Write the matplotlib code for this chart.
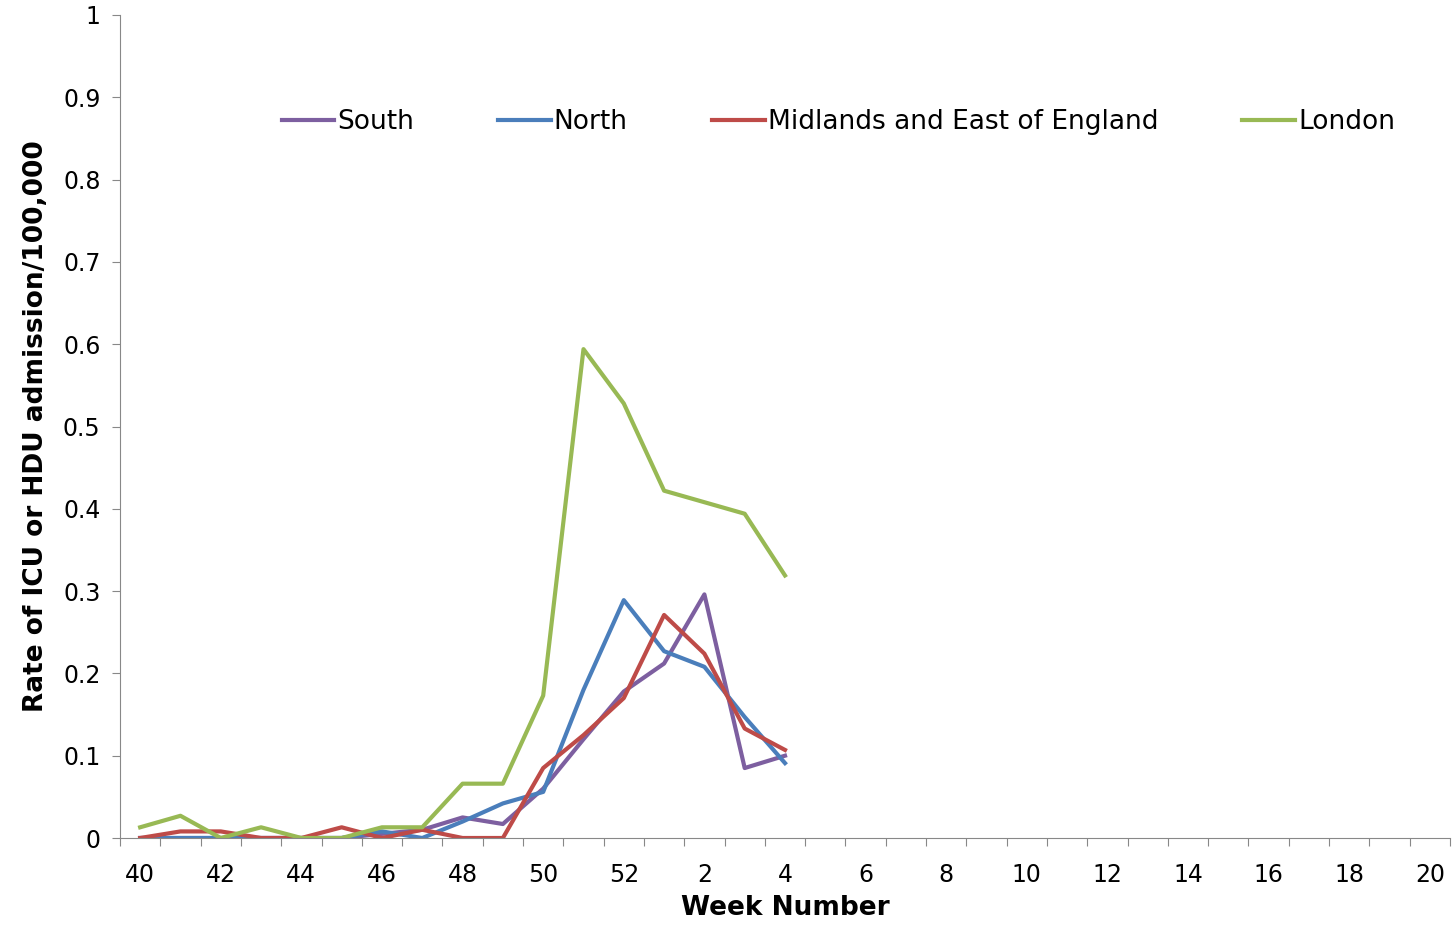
import matplotlib
matplotlib.use("Agg")
import matplotlib.pyplot as plt
import numpy as np

weeks = [str(w) for w in range(40, 53)] + [str(w) for w in range(1, 21)]
south = [0,0,0,0,0,0,0.005,0.01,0.025,0.017,0.06,0.12,0.178,0.212,0.296,0.085,0.1]
north = [0,0,0,0,0,0,0.008,0,0.02,0.042,0.056,0.18,0.289,0.227,0.208,0.147,0.091]
midlands = [0,0.008,0.008,0,0,0.013,0,0.01,0,0,0.085,0.125,0.17,0.271,0.224,0.133,0.107]
london = [0.013,0.027,0,0.013,0,0,0.013,0.013,0.066,0.066,0.173,0.594,0.528,0.422,0.408,0.394,0.319]
names = ["South", "North", "Midlands and East of England", "London"]
colors = ["#7D5FA0", "#4A7EBB", "#BE4B48", "#98B954"]

fig = plt.figure(figsize=(14.53, 9.36), dpi=100)
ax = fig.add_axes([120/1453, 1-838/936, 1330/1453, 823/936])
lines = []
for d, n, c in zip([south, north, midlands, london], names, colors):
    l, = ax.plot(np.arange(len(d)), d, color=c, lw=3, label=n)
    lines.append(l)

ax.set_xlim(-0.5, len(weeks) - 0.5)
ax.set_ylim(0, 1)
ax.set_xticks(np.arange(-0.5, len(weeks), 1), minor=False)
ax.set_xticklabels([])
ax.set_xticks(np.arange(0, len(weeks), 2), minor=True)
ax.set_xticklabels(weeks[::2], minor=True, fontsize=17)
ax.tick_params(axis='x', which='minor', length=0, pad=18)
ax.tick_params(axis='x', which='major', length=6, direction='out', color='#888888')
ax.set_yticks(np.arange(0, 1.01, 0.1))
ax.set_yticklabels(["0"] + [f"{v:.1f}" for v in np.arange(0.1, 0.95, 0.1)] + ["1"], fontsize=17)
ax.tick_params(axis='y', length=6, color='#888888', pad=8)
for s in ["top", "right"]:
    ax.spines[s].set_visible(False)
for s in ["left", "bottom"]:
    ax.spines[s].set_color("#888888")
ax.set_xlabel("Week Number", fontsize=19, fontweight='bold', labelpad=6)
ax.set_ylabel("Rate of ICU or HDU admission/100,000", fontsize=19, fontweight='bold', labelpad=10)
ax.legend(handles=lines, loc='center', bbox_to_anchor=(0.54, 0.87), ncol=4, frameon=False,
          fontsize=19, handlelength=2, handletextpad=0.1, columnspacing=3.2)
fig.savefig("out.png", dpi=100)
